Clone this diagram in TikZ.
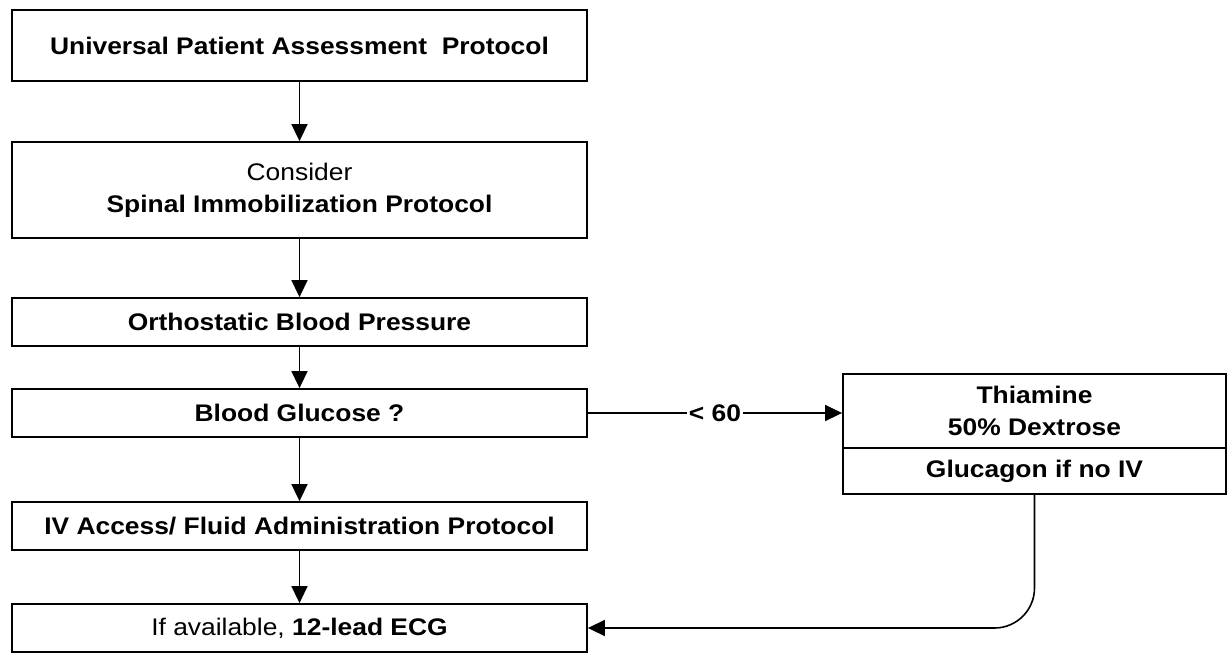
\documentclass[tikz,border=0pt]{standalone}
\usepackage{fontspec}
\setmainfont[FakeStretch=1.1]{Liberation Sans}
\usetikzlibrary{positioning,arrows.meta}

\begin{document}
\begin{tikzpicture}[x=0.5pt,y=-0.5pt]

\def\colx{299.5}
\def\sidex{1034.5}
\def\colw{287.5pt}
\def\sidew{191.5pt}

\tikzset{box/.style = {draw, line width=0.9pt, rectangle, minimum width=\colw, inner sep=0pt, align=center, font=\fontsize{12}{16}\selectfont\bfseries}}
\tikzset{link/.style = {line width=0.8pt, -{Triangle[length=8.5pt,width=8pt]}}}

\useasboundingbox (0,0) rectangle (1228,654);

\node[box, minimum height=35.5pt] (B1) at (\colx,45.5) {Universal Patient Assessment\ \ Protocol};
\node[box, minimum height=48pt] (B2) at (\colx,190) {\mdseries Consider\\Spinal Immobilization Protocol};
\node[box, minimum height=24pt] (B3) at (\colx,322) {Orthostatic Blood Pressure};
\node[box, minimum height=24pt] (B4) at (\colx,413) {Blood Glucose ?};
\node[box, minimum height=24pt] (B5) at (\colx,526) {IV Access/ Fluid Administration Protocol};
\node[box, minimum height=24pt] (B6) at (\colx,628) {\mdseries If available, \textbf{12-lead ECG}};

\node[box, minimum width=\sidew, minimum height=37pt] (R1) at (\sidex,411) {Thiamine\\50\% Dextrose};
\node[box, minimum width=\sidew, minimum height=23pt] (R2) at (\sidex,471) {Glucagon if no IV};

\draw[link] (B1) -- (B2);
\draw[link] (B2) -- (B3);
\draw[link] (B3) -- (B4);
\draw[link] (B4) -- (B5);
\draw[link] (B5) -- (B6);

\draw[link] (B4.east) -- node[fill=white, inner sep=1pt, font=\fontsize{12}{14}\selectfont\bfseries] (L60) {< 60} (R1.west |- B4.east);
\draw[link, rounded corners=20pt] (R2.south) |- (B6.east);

\end{tikzpicture}
\end{document}
